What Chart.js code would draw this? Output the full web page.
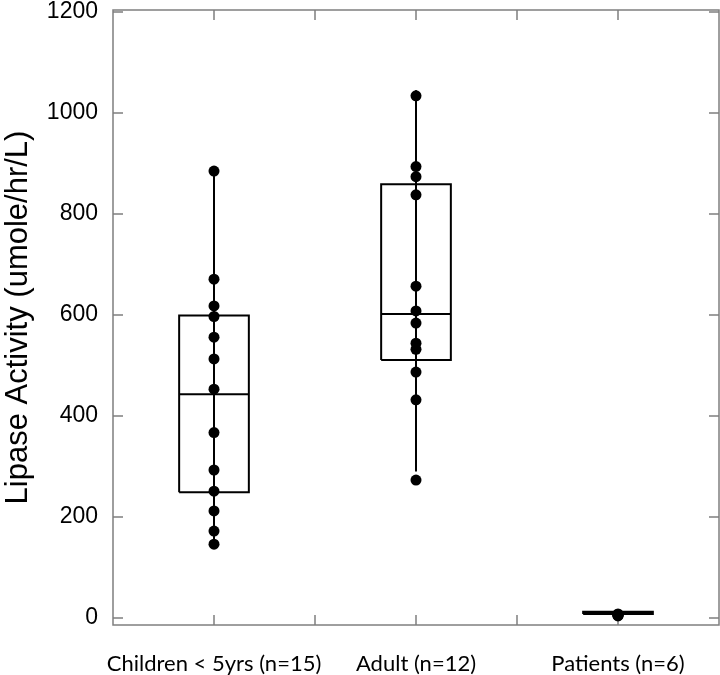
<!DOCTYPE html>
<html>
<head>
<meta charset="utf-8">
<script src="https://cdn.jsdelivr.net/npm/chart.js@4/dist/chart.umd.min.js"></script>
<style>
  html, body { margin: 0; padding: 0; background: #fff; overflow: hidden; }
  #wrap { width: 720px; height: 675px; }
</style>
</head>
<body>
<div id="wrap"><canvas id="chart"></canvas></div>
<script>
// Data
const categories = ['Children < 5yrs (n=15)', 'Adult (n=12)', 'Patients (n=6)'];
const childrenValues = [885, 671, 618, 597, 556, 513, 453, 367, 293, 251, 212, 172, 146];
const adultValues = [1034, 894, 874, 838, 657, 608, 584, 544, 532, 487, 432, 273];
const patientValues = [4, 5, 6, 6, 7, 8];
const boxQ1 = [249, 511, 8];
const boxMedian = [443, 602, 10];
const boxQ3 = [599, 859, 12];
const whiskerLow = [146, 290, 4];
const whiskerHigh = [885, 1045, 8];
const yTicks = [0, 200, 400, 600, 800, 1000, 1200];
const xTicks = [1, 2, 3, 4, 5];

const black = '#000';
const frameGray = '#7f7f7f';
const halfBox = 0.345;

const groups = [childrenValues, adultValues, patientValues];
const datasets = [];

categories.forEach((name, i) => {
    const cx = i * 2 + 1;
    const lineStyle = {
        showLine: true, borderColor: black, borderWidth: 2,
        pointRadius: 0, fill: false, tension: 0
    };
    // whisker
    datasets.push(Object.assign({
        data: [{ x: cx, y: whiskerLow[i] }, { x: cx, y: whiskerHigh[i] }]
    }, lineStyle));
    // box
    datasets.push(Object.assign({
        data: [
            { x: cx - halfBox, y: boxQ1[i] }, { x: cx + halfBox, y: boxQ1[i] },
            { x: cx + halfBox, y: boxQ3[i] }, { x: cx - halfBox, y: boxQ3[i] },
            { x: cx - halfBox, y: boxQ1[i] }
        ]
    }, lineStyle));
    // median
    datasets.push(Object.assign({
        data: [{ x: cx - halfBox, y: boxMedian[i] }, { x: cx + halfBox, y: boxMedian[i] }]
    }, lineStyle));
    // points
    datasets.push({
        data: groups[i].map(v => ({ x: cx, y: v })),
        showLine: false,
        pointRadius: 5.5,
        pointBackgroundColor: black,
        pointBorderColor: black,
        pointBorderWidth: 0
    });
});

// frame with inward tick marks on all four sides
const framePlugin = {
    id: 'frame',
    beforeDatasetsDraw(chart) {
        const { ctx, chartArea: a, scales } = chart;
        const len = 10;
        ctx.save();
        ctx.strokeStyle = frameGray;
        ctx.lineWidth = 1.5;
        ctx.strokeRect(a.left, a.top, a.right - a.left, a.bottom - a.top);
        ctx.beginPath();
        yTicks.forEach(v => {
            const py = scales.y.getPixelForValue(v);
            ctx.moveTo(a.left, py); ctx.lineTo(a.left + len, py);
            ctx.moveTo(a.right, py); ctx.lineTo(a.right - len, py);
        });
        xTicks.forEach(v => {
            const px = scales.x.getPixelForValue(v);
            ctx.moveTo(px, a.bottom); ctx.lineTo(px, a.bottom - len);
            ctx.moveTo(px, a.top); ctx.lineTo(px, a.top + len);
        });
        ctx.stroke();
        ctx.restore();
    }
};

new Chart(document.getElementById('chart'), {
    type: 'scatter',
    data: { datasets },
    options: {
        responsive: true,
        maintainAspectRatio: false,
        animation: false,
        layout: { autoPadding: false, padding: { top: 10, right: 1, left: 0, bottom: 0 } },
        plugins: { legend: { display: false }, tooltip: { enabled: false } },
        scales: {
            x: {
                type: 'linear',
                min: 0,
                max: 6,
                afterBuildTicks: s => { s.ticks = xTicks.map(v => ({ value: v })); },
                afterFit: s => { s.height = 50; s.paddingLeft = 0; s.paddingRight = 0; },
                grid: { display: false, drawTicks: false },
                border: { display: false },
                ticks: {
                    autoSkip: false,
                    maxRotation: 0,
                    padding: 26,
                    color: black,
                    font: { family: 'Lato', size: 22 },
                    callback: v => (v % 2 === 1 ? categories[(v - 1) / 2] : '')
                }
            },
            y: {
                min: -14,
                max: 1204,
                afterBuildTicks: s => { s.ticks = yTicks.map(v => ({ value: v })); },
                afterFit: s => { s.width = 113; s.paddingTop = 0; s.paddingBottom = 0; },
                grid: { display: false, drawTicks: false },
                border: { display: false },
                ticks: {
                    padding: 15,
                    color: black,
                    font: { family: 'Liberation Sans', size: 23 },
                    callback: v => String(v)
                },
                title: {
                    display: true,
                    text: 'Lipase Activity (umole/hr/L)',
                    color: black,
                    padding: 0,
                    font: { family: 'Liberation Sans', size: 31 }
                }
            }
        }
    },
    plugins: [framePlugin]
});
</script>
</body>
</html>
